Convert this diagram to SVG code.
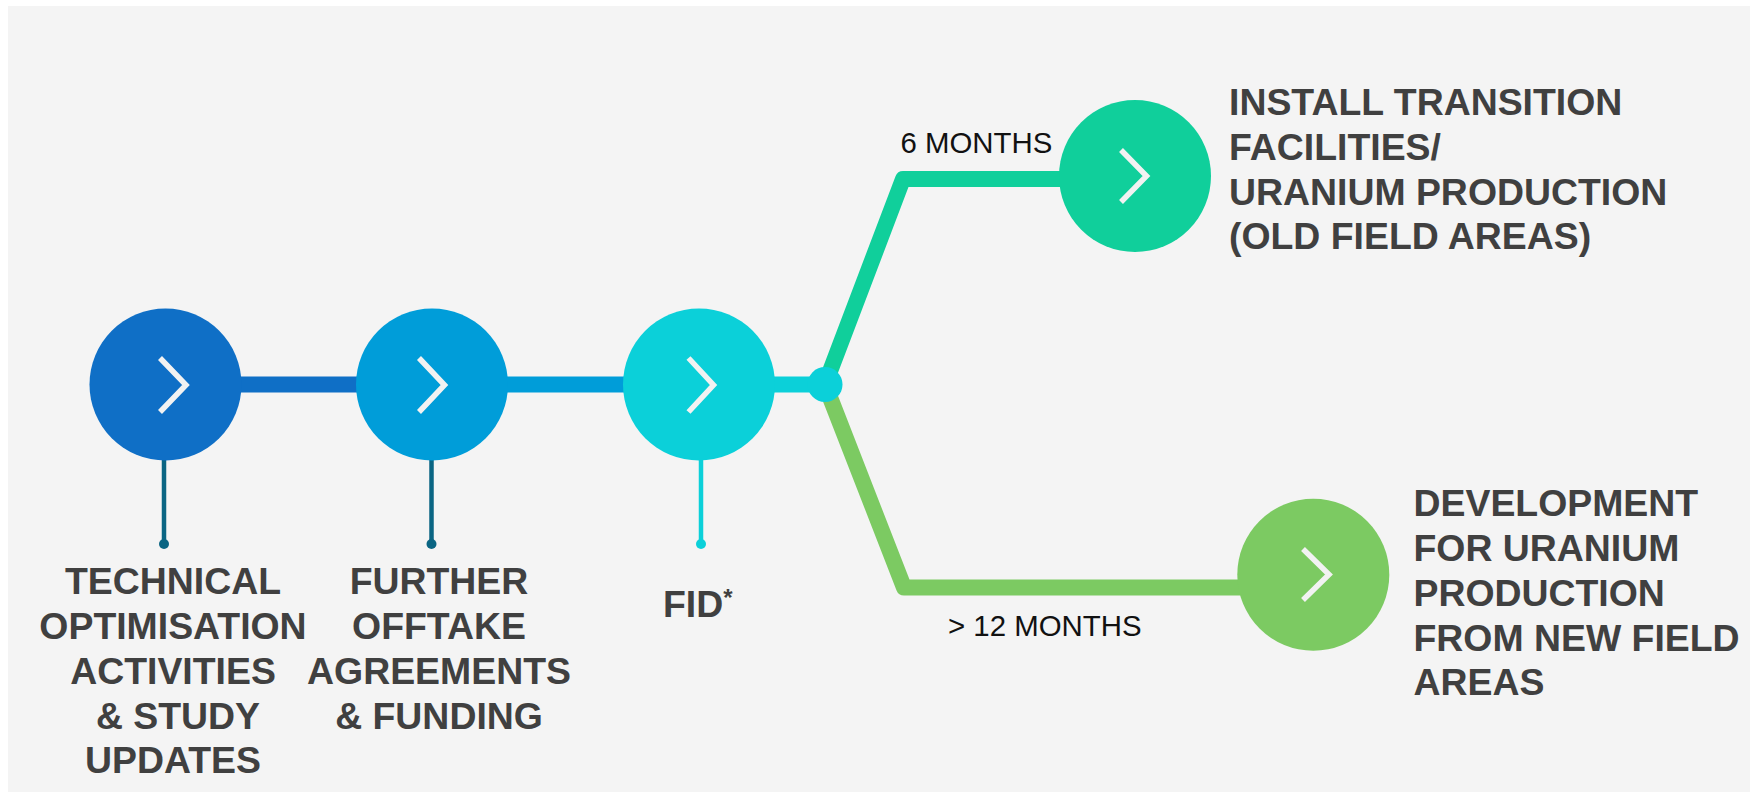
<svg xmlns="http://www.w3.org/2000/svg" width="1756" height="796" viewBox="0 0 1756 796">
<style>
.lbl{font-family:"Liberation Sans",Arial,sans-serif;font-weight:bold;font-size:37.4px;fill:#404040}
.dur{font-family:"Liberation Sans",Arial,sans-serif;font-size:29.4px;fill:#111111}
.chev{fill:none;stroke:#f2f2f2;stroke-width:5.5;stroke-linejoin:miter}
.bar{fill:none;stroke-width:16;stroke-linejoin:round}
.stem{stroke-width:4.5}
</style>
<rect x="0" y="0" width="1756" height="796" fill="#ffffff"/>
<rect x="8" y="6" width="1742" height="786" fill="#f4f4f4"/>
<g id="connectors">
<line class="bar" x1="165" y1="384.5" x2="432" y2="384.5" stroke="#0f6fc6"/>
<line class="bar" x1="432" y1="384.5" x2="699" y2="384.5" stroke="#009dd9"/>
<line class="bar" x1="699" y1="384.5" x2="825" y2="384.5" stroke="#0bd0d9"/>
<polyline class="bar" points="825,384.5 903,179 1135,179" stroke="#10cf9b"/>
<polyline class="bar" points="825,384.5 904,587.5 1313,587.5" stroke="#7cca62"/>
<line class="stem" x1="164" y1="455" x2="164" y2="544" stroke="#0a6583"/>
<circle cx="164" cy="544" r="5" fill="#0a6583"/>
<line class="stem" x1="431.5" y1="455" x2="431.5" y2="544" stroke="#0a6583"/>
<circle cx="431.5" cy="544" r="5" fill="#0a6583"/>
<line class="stem" x1="701" y1="455" x2="701" y2="544" stroke="#0bd0d9"/>
<circle cx="701" cy="544" r="5" fill="#0bd0d9"/>
</g>
<g id="junction"><circle cx="825" cy="384.5" r="17.5" fill="#0bd0d9"/></g>
<g id="node-technical">
<circle cx="165.5" cy="384.5" r="76" fill="#0f6fc6"/>
<polyline class="chev" points="160,358 186,385 160,412"/>
<text class="lbl" text-anchor="middle"><tspan x="173" y="594">TECHNICAL</tspan><tspan x="173" y="639">OPTIMISATION</tspan><tspan x="173" y="683.5">ACTIVITIES</tspan><tspan x="178" y="728.5">&amp; STUDY</tspan><tspan x="173" y="772.5">UPDATES</tspan></text>
</g>
<g id="node-offtake">
<circle cx="432" cy="384.5" r="76" fill="#009dd9"/>
<polyline class="chev" points="419,358 444.5,385 419,412"/>
<text class="lbl" text-anchor="middle"><tspan x="439" y="593.5">FURTHER</tspan><tspan x="439" y="638.5">OFFTAKE</tspan><tspan x="439" y="683.5">AGREEMENTS</tspan><tspan x="439" y="728.5">&amp; FUNDING</tspan></text>
</g>
<g id="node-fid">
<circle cx="699" cy="384.5" r="76" fill="#0bd0d9"/>
<polyline class="chev" points="688.5,358 713.5,385 688.5,412"/>
<text class="lbl" x="663" y="616.7">FID<tspan font-size="24" dy="-11">*</tspan></text>
</g>
<g id="node-install">
<circle cx="1135" cy="176" r="76" fill="#10cf9b"/>
<polyline class="chev" points="1121,150 1146.5,176 1121,202"/>
<text class="lbl"><tspan x="1229" y="115">INSTALL TRANSITION</tspan><tspan x="1229" y="160">FACILITIES/</tspan><tspan x="1229" y="205">URANIUM PRODUCTION</tspan><tspan x="1229" y="248.5">(OLD FIELD AREAS)</tspan></text>
<text class="dur" x="900.5" y="153.3">6 MONTHS</text>
</g>
<g id="node-development">
<circle cx="1313.3" cy="574.7" r="76" fill="#7cca62"/>
<polyline class="chev" points="1303,549 1329,574.5 1303,600"/>
<text class="lbl"><tspan x="1413.5" y="516">DEVELOPMENT</tspan><tspan x="1413.5" y="561">FOR URANIUM</tspan><tspan x="1413.5" y="606">PRODUCTION</tspan><tspan x="1413.5" y="651">FROM NEW FIELD</tspan><tspan x="1413.5" y="695">AREAS</tspan></text>
<text class="dur" x="948" y="636">&gt; 12 MONTHS</text>
</g>
</svg>
